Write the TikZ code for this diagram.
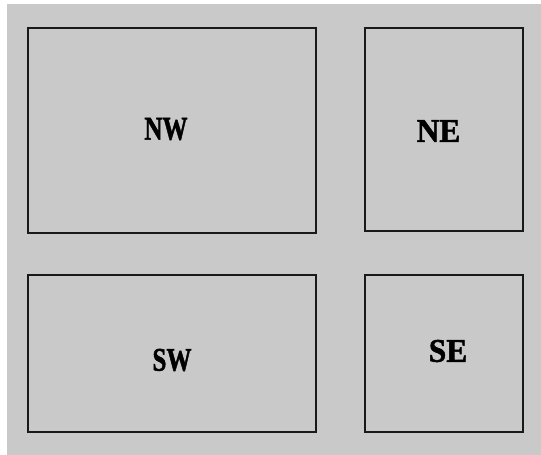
\documentclass[tikz,border=0pt]{standalone}
\usepackage{fontspec}
\setmainfont{Liberation Serif}
\newfontfamily\heavyfont{Liberation Serif Bold}[FakeBold=1.6]
\begin{document}
\begin{tikzpicture}[x=1pt,y=-1pt,
  panel/.style={draw=black!90, line width=2.7pt, inner sep=0pt, minimum width=#1},
  lbl/.style={font=\heavyfont\fontsize{33}{33}\selectfont, text=black, inner sep=0pt}]
\useasboundingbox (0,0) rectangle (541,455);
\fill[white] (0,0) rectangle (541,455);
\fill[gray!42] (7,4) rectangle (541,455);
\node[panel=288pt, minimum height=205pt] (nw) at (172,130.5) {};
\node[panel=158pt, minimum height=203pt] (ne) at (444,129.5) {};
\node[panel=288pt, minimum height=157pt] (sw) at (172,353.5) {};
\node[panel=158pt, minimum height=157pt] (se) at (444,353.5) {};
\node[lbl, xscale=0.76] (tnw) at (166,129) {NW};
\node[lbl, xscale=0.95] (tne) at (438.5,131) {NE};
\node[lbl, xscale=0.76] (tsw) at (172,360) {SW};
\node[lbl, xscale=0.95] (tse) at (448,351) {SE};
\end{tikzpicture}
\end{document}
